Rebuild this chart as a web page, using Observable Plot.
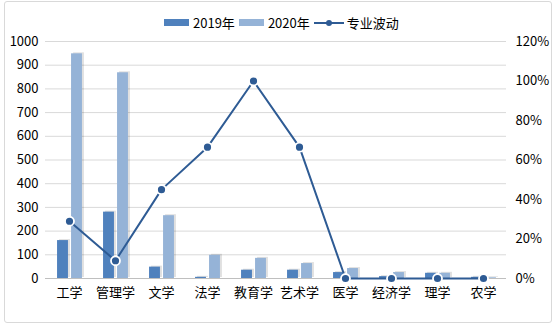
<!DOCTYPE html>
<html><head><meta charset="utf-8">
<script src="https://cdn.jsdelivr.net/npm/d3@7"></script>
<script src="https://cdn.jsdelivr.net/npm/@observablehq/plot@0.6"></script>
<style>
body{margin:0;background:#fff;font-family:"Microsoft YaHei","Noto Sans CJK SC",sans-serif;}
#wrap{position:relative;width:558px;height:329px;overflow:hidden;}
#frame{position:absolute;left:4px;top:1px;width:548px;height:322px;border:1px solid #d9d9d9;border-radius:3px;box-sizing:border-box;}
#legend{position:absolute;top:13px;left:164px;display:flex;align-items:center;font-size:13px;color:#000;white-space:nowrap;}
#legend .sw{display:inline-block;width:25px;height:7px;margin-right:4px;}
#legend .lbl{margin-right:4px;}
#chart{position:absolute;left:0;top:0;}
</style></head>
<body><div id="wrap"><div id="frame"></div><div id="legend"></div><div id="chart"></div></div>
<script>
const categories = ["工学","管理学","文学","法学","教育学","艺术学","医学","经济学","理学","农学"];
const values2019 = [160, 280, 48, 5, 35, 35, 25, 8, 22, 5];
const values2020 = [948, 868, 265, 98, 85, 63, 42, 25, 22, 3];
const fluctuation = [0.29, 0.09, 0.45, 0.665, 1.0, 0.665, 0, 0, 0, 0];
const seriesNames = ["2019年","2020年","专业波动"];
const leftTicks = [0,100,200,300,400,500,600,700,800,900,1000];
const rightTicks = [0,0.2,0.4,0.6,0.8,1.0,1.2];

const c2019 = "#4f81bd", c2020 = "#95b3d7", cLine = "#2e5b94";
const k = 1000 / 1.2;

const bars = [];
categories.forEach((c,i)=>{
  bars.push({cat:c, year:seriesNames[0], v:values2019[i]});
  bars.push({cat:c, year:seriesNames[1], v:values2020[i]});
});
const line = categories.map((c,i)=>({cat:c, p:fluctuation[i]*k}));

const inset = (46.1-11)/2;
const chart = Plot.plot({
  width:558, height:329,
  marginTop:41, marginBottom:51, marginLeft:45, marginRight:52,
  style:{fontFamily:'"Microsoft YaHei","Noto Sans CJK SC",sans-serif', fontSize:"13px", color:"#000", background:"transparent"},
  x:{domain:categories, type:"band", padding:0, label:null},
  y:{domain:[0,1000], label:null},
  marks:[
    Plot.gridY(leftTicks.filter(d=>d>0), {stroke:"#d9d9d9", strokeOpacity:1}),
    Plot.ruleY([0], {stroke:"#bfbfbf"}),
    Plot.barY(bars.filter(d=>d.year===seriesNames[0]), {x:"cat", y:"v", fill:"#000", fillOpacity:0.12, insetLeft:inset, insetRight:inset, dx:-4.5, dy:-1}),
    Plot.barY(bars.filter(d=>d.year===seriesNames[1]), {x:"cat", y:"v", fill:"#000", fillOpacity:0.12, insetLeft:inset, insetRight:inset, dx:9.5, dy:-1}),
    Plot.barY(bars.filter(d=>d.year===seriesNames[0]), {x:"cat", y:"v", fill:c2019, insetLeft:inset, insetRight:inset, dx:-6.5}),
    Plot.barY(bars.filter(d=>d.year===seriesNames[1]), {x:"cat", y:"v", fill:c2020, insetLeft:inset, insetRight:inset, dx:7.5}),
    Plot.line(line, {x:"cat", y:"p", stroke:cLine, strokeWidth:2}),
    Plot.dot(line, {x:"cat", y:"p", r:4.5, fill:cLine, stroke:"#fff", strokeWidth:1.8}),
    Plot.axisY(leftTicks, {anchor:"left", tickSize:0, tickPadding:7, fontSize:13, tickFormat:d=>String(d), label:null}),
    Plot.axisY(rightTicks.map(t=>t*k), {anchor:"right", tickSize:0, tickPadding:9, textAnchor:"start", tickFormat:d=>Math.round(d/k*100)+"%", fontSize:13, label:null}),
    Plot.axisX({tickSize:0, tickPadding:9, fontSize:13, label:null})
  ]
});
document.getElementById("chart").appendChild(chart);

const lg = document.getElementById("legend");
lg.innerHTML =
 `<span class="sw" style="background:${c2019}"></span><span class="lbl">${seriesNames[0]}</span>`+
 `<span class="sw" style="background:${c2020}"></span><span class="lbl">${seriesNames[1]}</span>`+
 `<svg width="30" height="10" style="margin-right:3px"><line x1="0" y1="5" x2="30" y2="5" stroke="${cLine}" stroke-width="2"/><circle cx="15" cy="5" r="3" fill="${cLine}"/></svg><span>${seriesNames[2]}</span>`;
</script></body></html>
